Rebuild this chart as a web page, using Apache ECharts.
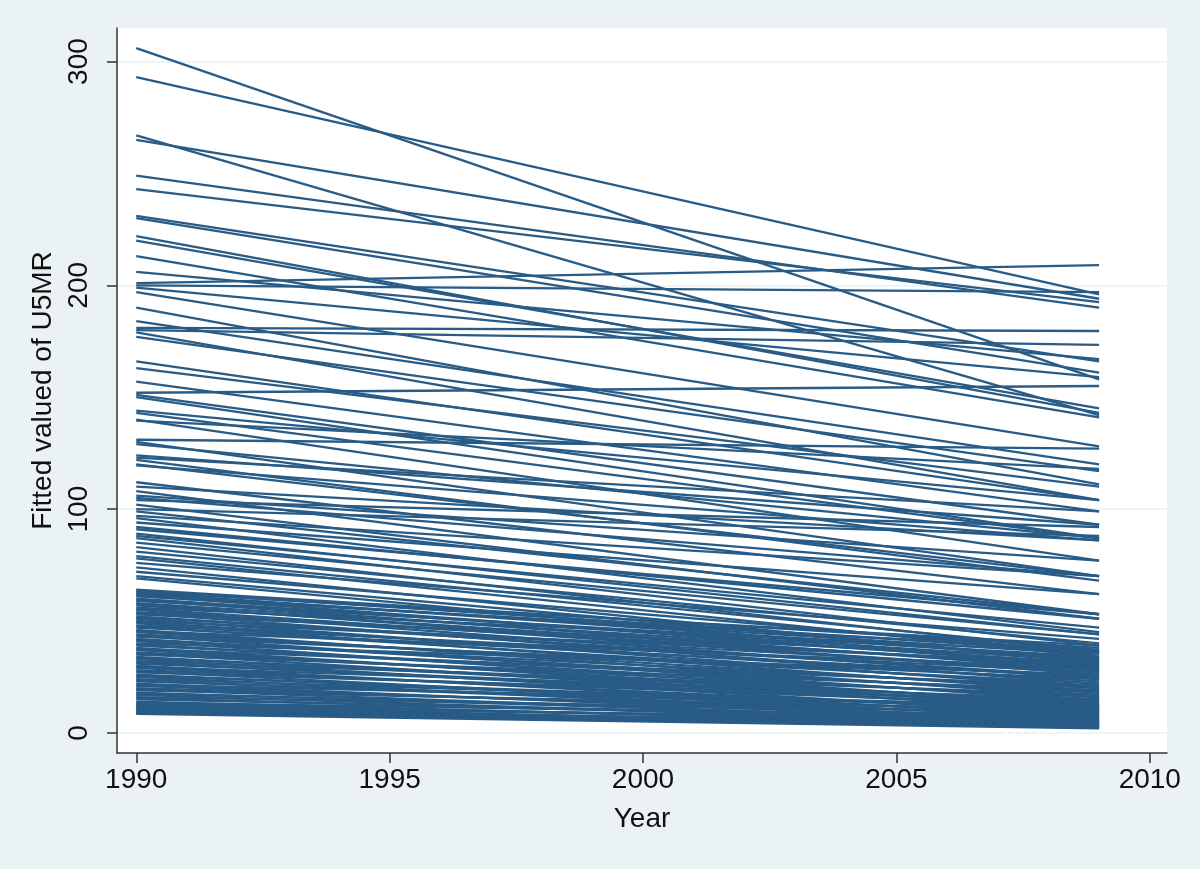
<!DOCTYPE html>
<html><head><meta charset="utf-8">
<script src="https://cdn.jsdelivr.net/npm/echarts@6/dist/echarts.min.js"></script>
<style>html,body{margin:0;padding:0;background:#eaf2f3}#c{width:1200px;height:869px}</style>
</head><body><div id="c"></div>
<script>
// Fitted U5MR per country: value at 1990 and at 2009 (straight fitted lines)
const years = [1990, 2009];
const start1990 = [
  306, 293, 267, 265, 249, 243, 231, 230, 222, 220, 213, 206, 201, 200, 199, 197,
  190, 184, 181, 180, 179, 177, 166, 163, 157, 152, 151, 150, 144, 143, 140, 139.5,
  131, 130, 129, 124, 123, 122, 120, 119.5, 112, 110, 108, 106, 105, 104, 102, 100,
  99, 97, 96, 94, 92, 91, 89, 88,
  87, 85, 83, 81, 79, 78, 76, 74, 72, 70, 69,
  64, 63.5, 63, 62.5, 62, 61.5, 61, 60, 59.5, 59, 58, 57.5, 57, 56, 55.5, 55,
  54, 53.5, 53, 52, 51.5, 51, 50, 49.5, 49, 48, 47.5, 47, 46, 45.5, 45, 44,
  43.5, 43, 42, 41.5, 41, 40, 39.5, 39, 38, 37.5, 37, 36, 35.5, 35, 34, 33.5,
  33, 32, 31.5, 31, 30, 29.5, 29, 28, 27.5, 27, 26, 25.5, 25, 24, 23.5, 23,
  22, 21.5, 21, 20, 19.5, 19, 18, 17.5, 17, 16, 15.5, 15, 14, 13.5, 13, 12.5,
  12, 11.5, 11, 10.5, 10, 9.5, 9, 8.8, 8.5
];
const end2009 = [
  158, 196, 142, 194, 190, 192.5, 166, 161, 143, 145, 141, 167, 209, 197, 159, 128,
  111, 120, 179.6, 173.4, 104, 117, 104, 110, 99, 155, 93, 87, 104, 87, 77, 118,
  127, 70, 87, 93, 99, 68, 70, 86, 62, 86, 53, 77, 70, 92, 51, 88,
  53, 70, 45, 62, 51, 53, 44, 47,
  39, 44, 36, 40, 37, 34, 42, 31, 36, 32, 29,
  38, 36, 39, 33, 35, 30, 37, 32, 28, 34, 31, 26, 29, 36, 27, 24,
  30, 22, 33, 25, 28, 20, 31, 23, 18, 27, 21, 25, 16, 29, 19, 22,
  14, 24, 17, 20, 12, 26, 15, 18, 11, 21, 13, 16, 10, 19, 12, 14,
  8, 17, 11, 13, 7, 15, 9, 12, 6, 14, 8, 10, 5, 11, 7, 9,
  4.5, 12, 6, 8, 4, 10, 5, 7, 3.5, 9, 4.5, 6, 3, 7, 4, 5,
  2.5, 6, 3, 4, 2.2, 5, 2.8, 3.5, 2
];
const xTicks = [1990, 1995, 2000, 2005, 2010];
const yTicks = [0, 100, 200, 300];

const FONT = "'Liberation Sans', Arial, Helvetica, sans-serif";
const LINE = '#285b86';

const series = start1990.map((s, i) => ({
  type: 'line',
  data: [[years[0], s], [years[1], end2009[i]]],
  symbol: 'none',
  silent: true,
  lineStyle: { color: LINE, width: 2.3 },
  z: 2
}));

const chart = echarts.init(document.getElementById('c'), null, { renderer: 'canvas' });
chart.setOption({
  backgroundColor: '#eaf2f3',
  animation: false,
  grid: {
    left: 117, right: 33, top: 28, bottom: 116,
    show: true, backgroundColor: '#ffffff', borderWidth: 0
  },
  xAxis: {
    type: 'value', min: 1989.62, max: 2010.34,
    name: 'Year', nameLocation: 'middle', nameGap: 52,
    nameTextStyle: { fontFamily: FONT, fontSize: 28, color: '#111' },
    axisLine: { show: true, onZero: false, lineStyle: { color: '#333', width: 1.5 } },
    axisTick: { show: true, length: 10, customValues: xTicks, lineStyle: { color: '#333', width: 1.5 } },
    axisLabel: { customValues: xTicks, formatter: v => String(v), fontFamily: FONT, fontSize: 28, color: '#111', margin: 13 },
    splitLine: { show: false }
  },
  yAxis: {
    type: 'value', min: -9, max: 315,
    name: 'Fitted valued of U5MR', nameLocation: 'middle', nameRotate: 90, nameGap: 47,
    nameTextStyle: { fontFamily: FONT, fontSize: 28, color: '#111' },
    axisLine: { show: true, onZero: false, lineStyle: { color: '#333', width: 1.5 } },
    axisTick: { show: true, length: 10, customValues: yTicks, lineStyle: { color: '#333', width: 1.5 } },
    axisLabel: { customValues: yTicks, formatter: v => String(v), rotate: 90, fontFamily: FONT, fontSize: 28, color: '#111', margin: 24 },
    splitLine: { show: true, lineStyle: { color: '#eaf2f3', width: 1.5 } }
  },
  series: series
});
</script></body></html>
